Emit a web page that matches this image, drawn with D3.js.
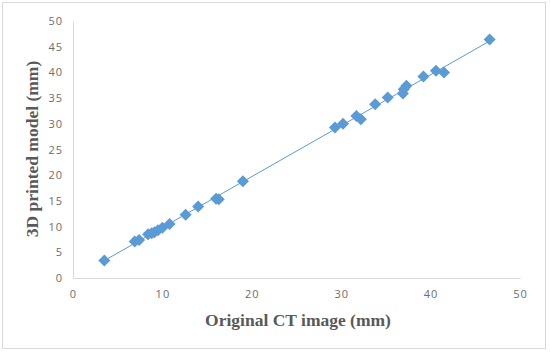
<!DOCTYPE html>
<html lang="en">
<head>
<meta charset="UTF-8">
<script src="https://d3js.org/d3.v7.min.js"></script>
<style>
  body { margin: 0; background: #fff; }
  .tick text { font-family: "Open Sans", sans-serif; font-size: 11px; fill: #6d6d6d; letter-spacing: 1px; }
  .axis-title { font-family: "Liberation Serif", serif; font-size: 17.5px; font-weight: bold; fill: #595959; }
</style>
</head>
<body>
<svg id="chart" width="550" height="352"></svg>
<script>
// measurements (mm): original CT image vs 3D printed model
const ctValues = [3.5, 6.9, 7.4, 8.4, 8.8, 9.1, 9.5, 10.0, 10.8, 12.6, 14.0, 16.0, 16.3, 19.0,
                  29.3, 30.2, 31.7, 32.2, 33.8, 35.2, 36.9, 37.0, 37.3, 39.2, 40.6, 41.5, 46.6];
const printedValues = [3.4, 7.1, 7.4, 8.5, 8.7, 8.9, 9.3, 9.8, 10.5, 12.3, 13.9, 15.4, 15.3, 18.8,
                  29.3, 30.0, 31.5, 30.9, 33.8, 35.1, 35.9, 36.7, 37.4, 39.2, 40.3, 40.0, 46.4];
const xTicks = [0, 10, 20, 30, 40, 50];
const yTicks = [0, 5, 10, 15, 20, 25, 30, 35, 40, 45, 50];

const data = ctValues.map((v, i) => ({x: v, y: printedValues[i]}));

const svg = d3.select("#chart");
const margin = {top: 21, right: 30, bottom: 74, left: 73};
const width = 550 - margin.left - margin.right;
const height = 352 - margin.top - margin.bottom;

// outer chart border
svg.append("rect")
    .attr("x", 2.5).attr("y", 2.5)
    .attr("width", 543).attr("height", 346)
    .attr("fill", "none").attr("stroke", "#d9d9d9");

const g = svg.append("g").attr("transform", `translate(${margin.left},${margin.top})`);

const x = d3.scaleLinear().domain([0, 50]).range([0, width]);
const y = d3.scaleLinear().domain([0, 50]).range([height, 0]);

const xAxis = g.append("g")
    .attr("transform", `translate(0,${height})`)
    .call(d3.axisBottom(x).tickValues(xTicks).tickSize(0).tickPadding(12));
const yAxis = g.append("g")
    .call(d3.axisLeft(y).tickValues(yTicks).tickSize(0).tickPadding(10));
[xAxis, yAxis].forEach(a => a.select(".domain").attr("stroke", "#d9d9d9"));

// linear trendline
const meanX = d3.mean(data, d => d.x), meanY = d3.mean(data, d => d.y);
const slope = d3.sum(data, d => (d.x - meanX) * (d.y - meanY)) / d3.sum(data, d => (d.x - meanX) ** 2);
const intercept = meanY - slope * meanX;
const [x0, x1] = d3.extent(data, d => d.x);
g.append("line")
    .attr("x1", x(x0)).attr("y1", y(intercept + slope * x0))
    .attr("x2", x(x1)).attr("y2", y(intercept + slope * x1))
    .attr("stroke", "#5b9bd5").attr("stroke-width", 1);

g.selectAll(".pt")
    .data(data)
    .enter()
    .append("path")
    .attr("class", "pt")
    .attr("d", "M0,-6L6,0L0,6L-6,0Z")
    .attr("transform", d => `translate(${x(d.x)},${y(d.y)})`)
    .attr("fill", "#5b9bd5");

svg.append("text")
    .attr("class", "axis-title")
    .attr("x", 298).attr("y", 326)
    .attr("text-anchor", "middle")
    .text("Original CT image (mm)");

svg.append("text")
    .attr("class", "axis-title")
    .attr("transform", "translate(38,149) rotate(-90)")
    .attr("text-anchor", "middle")
    .text("3D printed model (mm)");
</script>
</body>
</html>
